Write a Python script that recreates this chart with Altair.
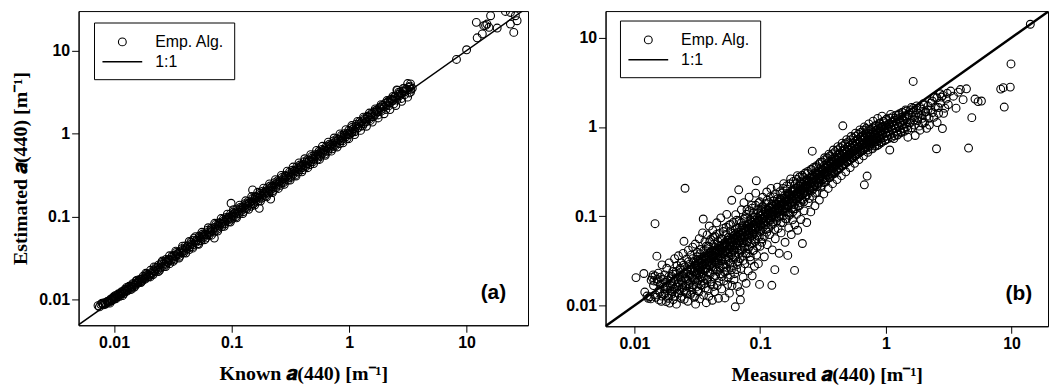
import altair as alt
import pandas as pd

# ---------------- Panel (a): Known vs Estimated a(440) ----------------
a_low = [(0.0073, 0.0085), (0.0077, 0.0088), (0.0079, 0.0091), (0.0081, 0.0087), (0.0083, 0.0092),
         (0.0085, 0.0090), (0.0087, 0.0095), (0.0088, 0.0093), (0.0090, 0.0097), (0.0091, 0.0094),
         (0.0093, 0.0099), (0.0094, 0.0102), (0.0096, 0.0098), (0.0098, 0.0104), (0.0100, 0.0102),
         (0.0101, 0.0108), (0.0103, 0.0105), (0.0105, 0.0112), (0.0107, 0.0109), (0.0109, 0.0115),
         (0.0111, 0.0113), (0.0113, 0.0120), (0.0115, 0.0117), (0.0117, 0.0124), (0.0119, 0.0121),
         (0.0122, 0.0128), (0.0125, 0.0126), (0.0127, 0.0133), (0.0130, 0.0131), (0.0133, 0.0140),
         (0.0136, 0.0137), (0.0139, 0.0145), (0.0142, 0.0141), (0.0145, 0.0152), (0.0148, 0.0150),
         (0.0152, 0.0149), (0.0155, 0.0160), (0.0159, 0.0157), (0.0162, 0.0168), (0.0166, 0.0165),
         (0.0170, 0.0176), (0.0174, 0.0171), (0.0178, 0.0184), (0.0182, 0.0180), (0.0187, 0.0194),
         (0.0191, 0.0187), (0.0196, 0.0201),
         (0.0075, 0.0082), (0.0080, 0.0090), (0.0084, 0.0088), (0.0089, 0.0096), (0.0092, 0.0091),
         (0.0097, 0.0101), (0.0099, 0.0108), (0.0104, 0.0103), (0.0108, 0.0117), (0.0112, 0.0110),
         (0.0116, 0.0125), (0.0121, 0.0118), (0.0124, 0.0134), (0.0129, 0.0127), (0.0134, 0.0145),
         (0.0138, 0.0133), (0.0144, 0.0156), (0.0149, 0.0142), (0.0154, 0.0168), (0.0160, 0.0163),
         (0.0165, 0.0175), (0.0172, 0.0166), (0.0177, 0.0192), (0.0184, 0.0177), (0.0190, 0.0205),
         (0.0198, 0.0190)]
a_mid1 = [(0.0201, 0.0198), (0.0206, 0.0212), (0.0211, 0.0207), (0.0217, 0.0224), (0.0222, 0.0218),
          (0.0228, 0.0236), (0.0234, 0.0228), (0.0240, 0.0262), (0.0246, 0.0241), (0.0252, 0.0270),
          (0.0258, 0.0252), (0.0265, 0.0273), (0.0272, 0.0266), (0.0279, 0.0290), (0.0286, 0.0281),
          (0.0294, 0.0305), (0.0302, 0.0296), (0.0310, 0.0325), (0.0318, 0.0311), (0.0327, 0.0342),
          (0.0336, 0.0330), (0.0345, 0.0356), (0.0354, 0.0349), (0.0364, 0.0378), (0.0374, 0.0366),
          (0.0384, 0.0395), (0.0395, 0.0388), (0.0406, 0.0420), (0.0417, 0.0410), (0.0429, 0.0447),
          (0.0441, 0.0431), (0.0453, 0.0470), (0.0466, 0.0458), (0.0479, 0.0552), (0.0492, 0.0486),
          (0.0506, 0.0523), (0.0520, 0.0508), (0.0535, 0.0556), (0.0550, 0.0541), (0.0565, 0.0583),
          (0.0581, 0.0569), (0.0597, 0.0617), (0.0614, 0.0602), (0.0631, 0.0655), (0.0649, 0.0637),
          (0.0667, 0.0689), (0.0686, 0.0670), (0.0713, 0.0552), (0.0725, 0.0748), (0.0745, 0.0731),
          (0.0766, 0.0792), (0.0788, 0.0770), (0.0810, 0.0837), (0.0833, 0.0815), (0.0856, 0.0885),
          (0.0880, 0.0862), (0.0905, 0.0934), (0.0931, 0.0912), (0.0957, 0.0990), (0.0984, 0.0962),
          (0.0990, 0.1450),
          (0.0204, 0.0226), (0.0215, 0.0201), (0.0226, 0.0245), (0.0237, 0.0248), (0.0244, 0.0226),
          (0.0255, 0.0281), (0.0268, 0.0252), (0.0276, 0.0305), (0.0289, 0.0301), (0.0297, 0.0272),
          (0.0312, 0.0338), (0.0323, 0.0301), (0.0339, 0.0371), (0.0350, 0.0362), (0.0362, 0.0334),
          (0.0378, 0.0412), (0.0391, 0.0368), (0.0403, 0.0444), (0.0420, 0.0438), (0.0433, 0.0398),
          (0.0450, 0.0492), (0.0462, 0.0432), (0.0481, 0.0521), (0.0497, 0.0512), (0.0514, 0.0472),
          (0.0532, 0.0585), (0.0547, 0.0512), (0.0569, 0.0618), (0.0585, 0.0601), (0.0603, 0.0552),
          (0.0626, 0.0688), (0.0645, 0.0601), (0.0670, 0.0725), (0.0690, 0.0712), (0.0711, 0.0652),
          (0.0735, 0.0805), (0.0757, 0.0705), (0.0782, 0.0848), (0.0803, 0.0832), (0.0826, 0.0758),
          (0.0851, 0.0935), (0.0875, 0.0815), (0.0902, 0.0978), (0.0927, 0.0962), (0.0952, 0.0872),
          (0.0981, 0.1078)]
a_mid2 = [(0.101, 0.104), (0.104, 0.101), (0.107, 0.111), (0.110, 0.108), (0.113, 0.117),
          (0.116, 0.113), (0.119, 0.124), (0.123, 0.120), (0.126, 0.131), (0.130, 0.127),
          (0.133, 0.139), (0.137, 0.134), (0.141, 0.146), (0.145, 0.141), (0.149, 0.155),
          (0.151, 0.210), (0.153, 0.150), (0.157, 0.163), (0.162, 0.158), (0.166, 0.172),
          (0.171, 0.167), (0.172, 0.126), (0.176, 0.183), (0.181, 0.176), (0.186, 0.193),
          (0.191, 0.187), (0.197, 0.204), (0.202, 0.197), (0.208, 0.216), (0.214, 0.208),
          (0.215, 0.163), (0.220, 0.228), (0.226, 0.221), (0.232, 0.241), (0.239, 0.233),
          (0.246, 0.255), (0.253, 0.246), (0.260, 0.270), (0.267, 0.260), (0.275, 0.285),
          (0.283, 0.276), (0.291, 0.302), (0.299, 0.289), (0.308, 0.320), (0.317, 0.308),
          (0.326, 0.339), (0.335, 0.326), (0.345, 0.359), (0.355, 0.345), (0.365, 0.380),
          (0.376, 0.366), (0.387, 0.402), (0.398, 0.388), (0.409, 0.426), (0.421, 0.410),
          (0.433, 0.451), (0.446, 0.434), (0.459, 0.478), (0.472, 0.460), (0.486, 0.505),
          (0.500, 0.487), (0.515, 0.536), (0.530, 0.516), (0.545, 0.567), (0.561, 0.546),
          (0.577, 0.600), (0.594, 0.579), (0.611, 0.636), (0.629, 0.613), (0.647, 0.673),
          (0.666, 0.649), (0.686, 0.713), (0.706, 0.687), (0.726, 0.756), (0.747, 0.728),
          (0.769, 0.800), (0.791, 0.771), (0.814, 0.847), (0.838, 0.817), (0.862, 0.897),
          (0.887, 0.865), (0.913, 0.950), (0.940, 0.916), (0.967, 1.006), (0.995, 0.970),
          (0.1005, 0.0935), (0.1032, 0.1132), (0.1061, 0.1098), (0.1092, 0.1002), (0.1125, 0.1241),
          (0.1157, 0.1078), (0.1193, 0.1298), (0.1228, 0.1272), (0.1262, 0.1152), (0.1302, 0.1432),
          (0.1338, 0.1245), (0.1379, 0.1512), (0.1418, 0.1468), (0.1459, 0.1335), (0.1505, 0.1652),
          (0.1547, 0.1438), (0.1595, 0.1745), (0.1641, 0.1702), (0.1688, 0.1541), (0.1741, 0.1912),
          (0.1789, 0.1662), (0.1845, 0.2025), (0.1898, 0.1965), (0.1951, 0.1782), (0.2012, 0.2215),
          (0.2068, 0.1925), (0.2131, 0.2338), (0.2193, 0.2272), (0.2255, 0.2058), (0.2326, 0.2562),
          (0.2391, 0.2225), (0.2464, 0.2702), (0.2535, 0.2628), (0.2607, 0.2378), (0.2689, 0.2962),
          (0.2764, 0.2572), (0.2849, 0.3125), (0.2931, 0.3038), (0.3013, 0.2748), (0.3108, 0.3425),
          (0.3195, 0.2972), (0.3294, 0.3612), (0.3389, 0.3512), (0.3484, 0.3178), (0.3593, 0.3962),
          (0.3694, 0.3435), (0.3808, 0.4175), (0.3918, 0.4062), (0.4028, 0.3672), (0.4155, 0.4582),
          (0.4271, 0.3972), (0.4403, 0.4828), (0.4530, 0.4695), (0.4657, 0.4245), (0.4804, 0.5298),
          (0.4938, 0.4592), (0.5091, 0.5582), (0.5238, 0.5428), (0.5385, 0.4908), (0.5554, 0.6125),
          (0.5710, 0.5308), (0.5886, 0.6452), (0.6056, 0.6275), (0.6226, 0.5675), (0.6421, 0.7082),
          (0.6602, 0.6138), (0.6805, 0.7462), (0.7001, 0.7255), (0.7198, 0.6562), (0.7424, 0.8188),
          (0.7633, 0.7098), (0.7868, 0.8628), (0.8095, 0.8388), (0.8322, 0.7585), (0.8583, 0.9465),
          (0.8825, 0.8205), (0.9097, 0.9975), (0.9359, 0.9698), (0.9622, 0.8772), (0.9923, 1.0945)]
a_wide = [(0.0102, 0.0112), (0.0118, 0.0112), (0.0128, 0.0141), (0.0141, 0.0134), (0.0157, 0.0172),
          (0.0169, 0.0161), (0.0186, 0.0208), (0.0203, 0.0188), (0.0219, 0.0248), (0.0238, 0.0218),
          (0.0257, 0.0292), (0.0275, 0.0251), (0.0296, 0.0338), (0.0318, 0.0289), (0.0335, 0.0385),
          (0.0357, 0.0318), (0.0383, 0.0442), (0.0408, 0.0365), (0.0436, 0.0502), (0.0466, 0.0418),
          (0.0493, 0.0575), (0.0525, 0.0465), (0.0559, 0.0648), (0.0592, 0.0528), (0.0633, 0.0735),
          (0.0674, 0.0598), (0.0718, 0.0832), (0.0762, 0.0672), (0.0815, 0.0948), (0.0866, 0.0765),
          (0.0921, 0.1072), (0.0976, 0.0862), (0.1038, 0.1215), (0.1102, 0.0968), (0.1172, 0.1372),
          (0.1245, 0.1092), (0.1318, 0.1552), (0.1398, 0.1225), (0.1482, 0.1745), (0.1572, 0.1378),
          (0.1668, 0.1962), (0.1762, 0.1542), (0.1872, 0.2205), (0.1985, 0.1735), (0.2102, 0.2482),
          (0.2228, 0.1948), (0.2362, 0.2792), (0.2501, 0.2185), (0.2652, 0.3135), (0.2808, 0.2452),
          (0.2975, 0.3522), (0.3152, 0.2752), (0.3338, 0.3952), (0.3535, 0.3085), (0.3745, 0.4435),
          (0.3965, 0.3462), (0.4198, 0.4975), (0.4448, 0.3882), (0.4712, 0.5582), (0.4991, 0.4352),
          (0.5285, 0.6262), (0.5598, 0.4882), (0.5928, 0.7025), (0.6279, 0.5475), (0.6652, 0.7882),
          (0.7045, 0.6142), (0.7462, 0.8842), (0.7905, 0.6892), (0.8372, 0.9918), (0.8868, 0.7732),
          (0.9392, 1.1125), (0.9948, 0.8672), (1.054, 1.248), (1.116, 0.973), (1.182, 1.402),
          (1.252, 1.092), (1.326, 1.572), (1.405, 1.225), (1.488, 1.765), (1.576, 1.375),
          (1.669, 1.982), (1.768, 1.542), (1.873, 2.225), (1.984, 1.732), (2.102, 2.495),
          (2.226, 1.942), (2.358, 2.802), (2.498, 2.178), (2.646, 3.142), (2.802, 2.445),
          (2.968, 3.525), (3.145, 2.745), (3.331, 3.952)]
a_high = [(1.024, 1.070), (1.054, 1.031), (1.085, 1.140), (1.116, 1.090), (1.149, 1.220),
          (1.182, 1.160), (1.217, 1.300), (1.252, 1.235), (1.289, 1.390), (1.327, 1.310),
          (1.366, 1.480), (1.406, 1.400), (1.447, 1.580), (1.489, 1.500), (1.533, 1.690),
          (1.578, 1.600), (1.624, 1.800), (1.671, 1.710), (1.720, 1.920), (1.770, 1.830),
          (1.822, 2.050), (1.875, 1.950), (1.930, 2.180), (1.986, 2.080), (2.044, 2.320),
          (2.104, 2.210), (2.166, 2.450), (2.229, 2.350), (2.294, 2.600), (2.361, 2.500),
          (2.430, 2.760), (2.501, 2.650), (2.574, 3.300), (2.650, 2.820), (2.727, 3.100),
          (2.807, 3.000), (2.889, 3.500), (2.973, 3.200), (3.060, 3.400), (3.150, 4.000),
          (3.240, 3.600), (3.330, 3.150), (3.450, 3.500),
          (1.021, 0.985), (1.052, 1.182), (1.085, 1.132), (1.118, 1.052), (1.153, 1.298),
          (1.188, 1.178), (1.226, 1.385), (1.263, 1.342), (1.302, 1.235), (1.342, 1.512),
          (1.384, 1.372), (1.427, 1.612), (1.471, 1.562), (1.516, 1.438), (1.563, 1.762),
          (1.612, 1.598), (1.662, 1.875), (1.713, 1.818), (1.766, 1.675), (1.821, 2.052),
          (1.877, 1.862), (1.935, 2.185), (1.995, 2.118), (2.057, 1.952), (2.121, 2.392),
          (2.186, 2.168), (2.254, 2.545), (2.324, 2.468), (2.396, 2.272), (2.470, 2.785),
          (2.546, 2.525), (2.625, 2.962), (2.706, 2.875), (2.790, 2.645), (2.877, 3.245),
          (2.966, 2.942), (3.058, 3.452), (3.152, 3.352), (3.250, 3.082), (3.350, 3.412),
          (3.300, 3.720), (2.550, 3.350),
          (8.2, 7.8), (10.0, 10.2), (12.1, 21.8), (12.3, 14.2), (13.6, 15.8), (14.0, 19.9),
          (14.5, 20.0), (14.9, 20.8), (15.5, 19.0), (16.0, 26.2), (18.2, 18.6), (21.4, 29.5),
          (23.6, 28.7), (26.0, 26.2), (23.6, 20.8), (25.2, 16.5), (26.9, 22.8)]

# ---------------- Panel (b): Measured vs Estimated a(440) ----------------
b_bin1 = [(0.0103, 0.0206), (0.0119, 0.0229), (0.0121, 0.0142), (0.0126, 0.0128), (0.0129, 0.0121),
          (0.0133, 0.0126), (0.0135, 0.0119), (0.0136, 0.0193), (0.0139, 0.0207), (0.0141, 0.0221),
          (0.0143, 0.0189), (0.0146, 0.0215), (0.0148, 0.0124), (0.0151, 0.0358), (0.0146, 0.0826),
          (0.0152, 0.0197), (0.0155, 0.0231), (0.0157, 0.0116), (0.0159, 0.0142), (0.0161, 0.0208),
          (0.0164, 0.0112), (0.0166, 0.0286), (0.0168, 0.0176), (0.0171, 0.0134), (0.0174, 0.0221),
          (0.0176, 0.0157), (0.0179, 0.0111), (0.0181, 0.0262), (0.0184, 0.0193), (0.0187, 0.0128),
          (0.0189, 0.0301), (0.0191, 0.0107), (0.0194, 0.0167), (0.0197, 0.0214), (0.0199, 0.0145)]
b_bin2 = [(0.0202, 0.0241), (0.0204, 0.0117), (0.0207, 0.0189), (0.0209, 0.0335), (0.0211, 0.0152),
          (0.0214, 0.0226), (0.0216, 0.0104), (0.0219, 0.0281), (0.0221, 0.0173), (0.0224, 0.0361),
          (0.0226, 0.0138), (0.0229, 0.0212), (0.0231, 0.0251), (0.0234, 0.0121), (0.0236, 0.0302),
          (0.0239, 0.0186), (0.0242, 0.0158), (0.0244, 0.0384), (0.0247, 0.0229), (0.0248, 0.0525),
          (0.0249, 0.0118), (0.0252, 0.0271), (0.0253, 0.206), (0.0255, 0.0197), (0.0258, 0.0145),
          (0.0261, 0.0332), (0.0263, 0.0241), (0.0266, 0.0112), (0.0269, 0.0418), (0.0271, 0.0176),
          (0.0274, 0.0289), (0.0277, 0.0215), (0.0279, 0.0133), (0.0282, 0.0367), (0.0285, 0.0254),
          (0.0288, 0.0161), (0.0291, 0.0452), (0.0293, 0.0198), (0.0296, 0.0312), (0.0299, 0.0124),
          (0.0302, 0.0237), (0.0305, 0.0489), (0.0307, 0.0104), (0.0310, 0.0278), (0.0313, 0.0182),
          (0.0316, 0.0396), (0.0319, 0.0146), (0.0322, 0.0331), (0.0325, 0.0221), (0.0328, 0.0561),
          (0.0331, 0.0119), (0.0334, 0.0264), (0.0337, 0.0425), (0.0340, 0.0171), (0.0343, 0.0307),
          (0.0346, 0.0208), (0.0349, 0.0652)]
b_bin3 = [(0.0353, 0.0932), (0.0355, 0.0131), (0.0358, 0.0352), (0.0361, 0.0245), (0.0364, 0.0521),
          (0.0367, 0.0158), (0.0370, 0.0412), (0.0373, 0.0108), (0.0376, 0.0287), (0.0379, 0.0618),
          (0.0382, 0.0196), (0.0385, 0.0361), (0.0388, 0.0462), (0.0391, 0.0127), (0.0394, 0.0778),
          (0.0397, 0.0233), (0.0400, 0.0321), (0.0404, 0.0549), (0.0407, 0.0174), (0.0410, 0.0402),
          (0.0414, 0.0275), (0.0417, 0.0115), (0.0420, 0.0694), (0.0424, 0.0352), (0.0427, 0.0209),
          (0.0431, 0.0487), (0.0434, 0.0143), (0.0438, 0.0594), (0.0441, 0.0308), (0.0445, 0.0412),
          (0.0449, 0.0252), (0.0452, 0.0846), (0.0456, 0.0168), (0.0460, 0.0377), (0.0464, 0.0521),
          (0.0467, 0.0121), (0.0471, 0.0289), (0.0475, 0.0642), (0.0479, 0.0441), (0.0483, 0.0227),
          (0.0487, 0.0961), (0.0491, 0.0335), (0.0495, 0.0154), (0.0499, 0.0558), (0.0504, 0.0398),
          (0.0508, 0.0268), (0.0512, 0.0731), (0.0516, 0.0189), (0.0521, 0.0482), (0.0525, 0.0122),
          (0.0529, 0.0351), (0.0534, 0.0623), (0.0538, 0.0244), (0.0543, 0.1051), (0.0547, 0.0427),
          (0.0552, 0.0173), (0.0556, 0.0542), (0.0561, 0.0312), (0.0566, 0.0795), (0.0570, 0.0138),
          (0.0575, 0.0461), (0.0580, 0.0221), (0.0585, 0.0687), (0.0590, 0.0372), (0.0595, 0.1512),
          (0.0598, 0.0168), (0.0600, 0.0512)]
b_bin4 = [(0.0605, 0.0282), (0.0610, 0.0851), (0.0615, 0.0411), (0.0620, 0.0195), (0.0625, 0.0612),
          (0.0630, 0.0352), (0.0635, 0.0097), (0.0640, 0.1043), (0.0645, 0.0478), (0.0650, 0.0254),
          (0.0655, 0.0731), (0.0661, 0.0164), (0.0666, 0.0541), (0.0671, 0.0312), (0.0676, 0.198),
          (0.0682, 0.0892), (0.0687, 0.0421), (0.0693, 0.0143), (0.0697, 0.0116), (0.0698, 0.0662),
          (0.0704, 0.0261), (0.0710, 0.1182), (0.0715, 0.0502), (0.0721, 0.0358), (0.0727, 0.0785),
          (0.0733, 0.0208), (0.0738, 0.0582), (0.0744, 0.1421), (0.0750, 0.0441), (0.0756, 0.0295),
          (0.0762, 0.0953), (0.0768, 0.0675), (0.0774, 0.0178), (0.0780, 0.0521), (0.0787, 0.1192),
          (0.0793, 0.0382), (0.0799, 0.0812), (0.0805, 0.0245), (0.0812, 0.0621), (0.0818, 0.1634),
          (0.0825, 0.0461), (0.0831, 0.0925), (0.0838, 0.0322), (0.0845, 0.0712), (0.0852, 0.0548),
          (0.0858, 0.1321), (0.0865, 0.0216), (0.0872, 0.0851), (0.0879, 0.0412), (0.0887, 0.1085),
          (0.0894, 0.0635), (0.0901, 0.0276), (0.0908, 0.0972), (0.0916, 0.0521), (0.0923, 0.1815),
          (0.0930, 0.0752), (0.0933, 0.250), (0.0938, 0.0368), (0.0946, 0.1182), (0.0953, 0.0605),
          (0.0961, 0.0891), (0.0969, 0.0295), (0.0977, 0.1412), (0.0985, 0.0702), (0.0990, 0.0173),
          (0.0993, 0.1035), (0.0998, 0.0462)]
b_bin5 = [(0.101, 0.0812), (0.102, 0.125), (0.104, 0.0561), (0.105, 0.163), (0.107, 0.0945),
          (0.108, 0.0352), (0.110, 0.121), (0.111, 0.0712), (0.113, 0.187), (0.114, 0.0481),
          (0.116, 0.108), (0.117, 0.142), (0.119, 0.0625), (0.120, 0.0912), (0.122, 0.205),
          (0.124, 0.0169), (0.124, 0.128), (0.125, 0.0421), (0.127, 0.0821), (0.128, 0.165),
          (0.130, 0.112), (0.131, 0.0253), (0.132, 0.0561), (0.134, 0.138), (0.135, 0.0952),
          (0.137, 0.212), (0.139, 0.0731), (0.140, 0.121), (0.142, 0.0385), (0.144, 0.157),
          (0.145, 0.102), (0.147, 0.0652), (0.149, 0.182), (0.150, 0.131), (0.152, 0.0852),
          (0.154, 0.232), (0.156, 0.112), (0.158, 0.0512), (0.160, 0.148), (0.162, 0.0935),
          (0.164, 0.201), (0.166, 0.0365), (0.167, 0.128), (0.169, 0.0741), (0.171, 0.172),
          (0.173, 0.108), (0.175, 0.262), (0.177, 0.0625), (0.179, 0.142), (0.181, 0.0912),
          (0.184, 0.195), (0.186, 0.121), (0.188, 0.0248), (0.189, 0.0802), (0.191, 0.231),
          (0.193, 0.158), (0.195, 0.105), (0.198, 0.285), (0.199, 0.0698)]
b_bin6 = [(0.202, 0.178), (0.205, 0.131), (0.208, 0.245), (0.211, 0.0921), (0.214, 0.198),
          (0.217, 0.0496), (0.218, 0.152), (0.221, 0.275), (0.224, 0.115), (0.228, 0.221),
          (0.231, 0.172), (0.235, 0.0852), (0.238, 0.301), (0.242, 0.142), (0.245, 0.245),
          (0.249, 0.195), (0.253, 0.112), (0.257, 0.332), (0.260, 0.535), (0.261, 0.168),
          (0.265, 0.265), (0.269, 0.215), (0.273, 0.131), (0.278, 0.352), (0.282, 0.185),
          (0.287, 0.291), (0.291, 0.238), (0.296, 0.152), (0.301, 0.402), (0.306, 0.211),
          (0.311, 0.325), (0.316, 0.262), (0.321, 0.178), (0.326, 0.452), (0.331, 0.241),
          (0.337, 0.362), (0.342, 0.292), (0.348, 0.205), (0.353, 0.495), (0.359, 0.271),
          (0.365, 0.402), (0.371, 0.325), (0.377, 0.232), (0.383, 0.552), (0.389, 0.301),
          (0.396, 0.445), (0.402, 0.365), (0.409, 0.258), (0.415, 0.602), (0.422, 0.335),
          (0.429, 0.492), (0.436, 0.402), (0.443, 0.285), (0.450, 0.658), (0.455, 1.03),
          (0.457, 0.372), (0.465, 0.545), (0.472, 0.445), (0.480, 0.315), (0.488, 0.721),
          (0.496, 0.412)]
b_bin7 = [(0.504, 0.602), (0.512, 0.492), (0.521, 0.351), (0.529, 0.781), (0.538, 0.452),
          (0.547, 0.662), (0.556, 0.542), (0.565, 0.392), (0.574, 0.852), (0.583, 0.498),
          (0.593, 0.725), (0.602, 0.595), (0.612, 0.432), (0.622, 0.925), (0.632, 0.548),
          (0.643, 0.792), (0.653, 0.652), (0.664, 0.475), (0.675, 0.225), (0.675, 1.002),
          (0.686, 0.602), (0.697, 0.862), (0.708, 0.712), (0.710, 0.282), (0.720, 0.521),
          (0.732, 1.082), (0.744, 0.662), (0.756, 0.935), (0.768, 0.772), (0.781, 0.568),
          (0.793, 1.162), (0.806, 0.725), (0.820, 1.012), (0.833, 0.838), (0.847, 0.615),
          (0.861, 1.245), (0.875, 0.792), (0.889, 1.085), (0.904, 0.905), (0.918, 0.665),
          (0.933, 1.321), (0.949, 0.858), (0.964, 1.152), (0.980, 0.972), (0.996, 0.718)]
b_bin8 = [(1.012, 1.225), (1.031, 0.862), (1.052, 1.052), (1.075, 0.552), (1.092, 1.382),
          (1.115, 0.935), (1.138, 1.142), (1.160, 0.742), (1.185, 1.252), (1.212, 1.021),
          (1.238, 0.812), (1.262, 1.352), (1.291, 1.105), (1.318, 0.882), (1.345, 1.452),
          (1.375, 1.192), (1.402, 0.952), (1.435, 1.552), (1.465, 1.285), (1.498, 0.768),
          (1.531, 1.375), (1.565, 1.112), (1.601, 1.652), (1.651, 3.23), (1.638, 1.462),
          (1.675, 1.195), (1.712, 0.802), (1.752, 1.552), (1.793, 1.282), (1.835, 1.021),
          (1.878, 1.652), (1.922, 1.372), (1.968, 1.095), (2.015, 1.752), (2.062, 1.462),
          (2.112, 0.965), (2.165, 1.552)]
b_bin9 = [(2.21, 1.25), (2.28, 1.85), (2.35, 1.45), (2.43, 2.15), (2.53, 0.57), (2.56, 1.12),
          (2.62, 1.65), (2.71, 2.35), (2.78, 2.16), (2.82, 0.96), (2.88, 1.42), (3.02, 2.05),
          (3.14, 1.78), (3.28, 2.52), (3.45, 2.21), (3.62, 1.62), (3.77, 2.45), (3.92, 2.62),
          (4.12, 2.02), (4.38, 2.67), (4.55, 0.58), (4.83, 1.27), (5.12, 2.05), (5.42, 1.92),
          (5.76, 1.95)]
b_bin10 = [(8.2, 2.65), (8.75, 1.67), (8.6, 2.75), (9.77, 2.79), (9.9, 5.07), (14.1, 14.1)]

# dense core of the cloud in panel (b)
b_core1 = [(0.0142, 0.0168), (0.0147, 0.0132), (0.0153, 0.0185), (0.0158, 0.0149), (0.0161, 0.0172),
           (0.0165, 0.0128), (0.0169, 0.0196), (0.0172, 0.0155), (0.0176, 0.0139), (0.0178, 0.0182),
           (0.0183, 0.0163), (0.0186, 0.0121), (0.0188, 0.0211), (0.0192, 0.0148), (0.0195, 0.0188),
           (0.0198, 0.0134), (0.0201, 0.0171), (0.0203, 0.0225), (0.0206, 0.0153), (0.0209, 0.0128),
           (0.0212, 0.0196), (0.0215, 0.0242), (0.0218, 0.0162), (0.0221, 0.0138), (0.0223, 0.0207),
           (0.0226, 0.0181), (0.0229, 0.0152), (0.0232, 0.0262), (0.0235, 0.0194), (0.0238, 0.0127),
           (0.0241, 0.0218), (0.0243, 0.0171), (0.0246, 0.0284), (0.0249, 0.0149), (0.0252, 0.0205),
           (0.0255, 0.0232), (0.0258, 0.0166), (0.0261, 0.0138), (0.0264, 0.0251), (0.0267, 0.0192),
           (0.0270, 0.0311), (0.0273, 0.0158), (0.0276, 0.0224), (0.0279, 0.0183), (0.0282, 0.0268),
           (0.0285, 0.0141), (0.0288, 0.0205), (0.0291, 0.0336), (0.0294, 0.0172), (0.0297, 0.0241),
           (0.0300, 0.0198), (0.0303, 0.0128), (0.0306, 0.0285), (0.0309, 0.0221), (0.0312, 0.0162),
           (0.0315, 0.0352), (0.0318, 0.0248), (0.0321, 0.0191), (0.0324, 0.0301), (0.0327, 0.0145),
           (0.0330, 0.0232), (0.0333, 0.0381), (0.0336, 0.0212), (0.0339, 0.0168), (0.0342, 0.0275),
           (0.0345, 0.0331), (0.0348, 0.0188)]
b_core2 = [(0.0352, 0.0291), (0.0356, 0.0412), (0.0359, 0.0215), (0.0363, 0.0178), (0.0366, 0.0335),
           (0.0370, 0.0262), (0.0373, 0.0462), (0.0377, 0.0198), (0.0380, 0.0305), (0.0384, 0.0238),
           (0.0387, 0.0148), (0.0391, 0.0385), (0.0394, 0.0281), (0.0398, 0.0521), (0.0401, 0.0225),
           (0.0405, 0.0338), (0.0409, 0.0185), (0.0412, 0.0412), (0.0416, 0.0298), (0.0420, 0.0252),
           (0.0423, 0.0585), (0.0427, 0.0164), (0.0431, 0.0362), (0.0435, 0.0271), (0.0439, 0.0448),
           (0.0443, 0.0215), (0.0447, 0.0325), (0.0451, 0.0628), (0.0455, 0.0391), (0.0459, 0.0242),
           (0.0463, 0.0298), (0.0467, 0.0475), (0.0471, 0.0188), (0.0475, 0.0352), (0.0479, 0.0412),
           (0.0484, 0.0265), (0.0488, 0.0562), (0.0492, 0.0318), (0.0497, 0.0212), (0.0501, 0.0445),
           (0.0505, 0.0382), (0.0510, 0.0675), (0.0514, 0.0291), (0.0519, 0.0498), (0.0523, 0.0238),
           (0.0528, 0.0412), (0.0532, 0.0335), (0.0537, 0.0755), (0.0542, 0.0268), (0.0546, 0.0462),
           (0.0551, 0.0391), (0.0556, 0.0205), (0.0561, 0.0582), (0.0566, 0.0348), (0.0571, 0.0431),
           (0.0576, 0.0298), (0.0581, 0.0812), (0.0586, 0.0521), (0.0591, 0.0252), (0.0596, 0.0395),
           (0.0601, 0.0468), (0.0607, 0.0642), (0.0612, 0.0325), (0.0617, 0.0552), (0.0623, 0.0418),
           (0.0628, 0.0228), (0.0634, 0.0712), (0.0639, 0.0365), (0.0645, 0.0495), (0.0651, 0.0902),
           (0.0656, 0.0442), (0.0662, 0.0288), (0.0668, 0.0612), (0.0674, 0.0385), (0.0680, 0.0535),
           (0.0686, 0.0752), (0.0692, 0.0335), (0.0698, 0.0472)]
b_core3 = [(0.0704, 0.0582), (0.0710, 0.0852), (0.0717, 0.0418), (0.0723, 0.0665), (0.0730, 0.0512),
           (0.0736, 0.0321), (0.0743, 0.0932), (0.0749, 0.0592), (0.0756, 0.0455), (0.0763, 0.0725),
           (0.0770, 0.0385), (0.0777, 0.1052), (0.0784, 0.0628), (0.0791, 0.0512), (0.0798, 0.0812),
           (0.0805, 0.0432), (0.0812, 0.0685), (0.0820, 0.1152), (0.0827, 0.0565), (0.0835, 0.0352),
           (0.0842, 0.0892), (0.0850, 0.0712), (0.0858, 0.0495), (0.0865, 0.1235), (0.0873, 0.0632),
           (0.0881, 0.0781), (0.0889, 0.0418), (0.0897, 0.0982), (0.0906, 0.0715), (0.0914, 0.0555),
           (0.0922, 0.1328), (0.0931, 0.0842), (0.0939, 0.0652), (0.0948, 0.0462), (0.0957, 0.1085),
           (0.0966, 0.0775), (0.0975, 0.0912), (0.0984, 0.0588), (0.0993, 0.1452), (0.1002, 0.0821),
           (0.1011, 0.0682), (0.1021, 0.1152), (0.1030, 0.0512), (0.1040, 0.0945), (0.1049, 0.1285),
           (0.1059, 0.0752), (0.1069, 0.0885), (0.1079, 0.0595), (0.1089, 0.1385), (0.1099, 0.1025),
           (0.1109, 0.0812), (0.1119, 0.1182), (0.1130, 0.0665), (0.1140, 0.1512), (0.1151, 0.0942),
           (0.1162, 0.1078), (0.1172, 0.0728), (0.1183, 0.1252), (0.1194, 0.0885), (0.1206, 0.1652),
           (0.1217, 0.1015), (0.1228, 0.0795), (0.1240, 0.1342), (0.1251, 0.1112), (0.1263, 0.0862),
           (0.1275, 0.1482), (0.1287, 0.0978), (0.1299, 0.1215), (0.1311, 0.0712), (0.1323, 0.1785),
           (0.1336, 0.1085), (0.1348, 0.1335), (0.1361, 0.0892), (0.1374, 0.1565), (0.1387, 0.1192)]
b_core4 = [(0.1400, 0.1452), (0.1413, 0.0985), (0.1427, 0.1212), (0.1440, 0.1885), (0.1454, 0.1345),
           (0.1467, 0.0852), (0.1481, 0.1595), (0.1495, 0.1152), (0.1509, 0.1412), (0.1524, 0.2052),
           (0.1538, 0.1018), (0.1553, 0.1325), (0.1567, 0.1712), (0.1582, 0.1215), (0.1597, 0.0935),
           (0.1612, 0.1552), (0.1628, 0.2185), (0.1643, 0.1365), (0.1659, 0.1112), (0.1675, 0.1815),
           (0.1690, 0.1482), (0.1706, 0.1025), (0.1723, 0.2312), (0.1739, 0.1415), (0.1755, 0.1662),
           (0.1772, 0.1218), (0.1789, 0.1935), (0.1806, 0.1552), (0.1823, 0.1122), (0.1840, 0.2455),
           (0.1858, 0.1685), (0.1875, 0.1352), (0.1893, 0.2052), (0.1911, 0.1215), (0.1929, 0.1795),
           (0.1947, 0.2585), (0.1966, 0.1495), (0.1985, 0.1865), (0.2003, 0.1312), (0.2022, 0.2185),
           (0.2042, 0.1652), (0.2061, 0.2752), (0.2081, 0.1428), (0.2100, 0.1982), (0.2120, 0.2312),
           (0.2140, 0.1585), (0.2161, 0.2875), (0.2181, 0.1785), (0.2202, 0.2112), (0.2223, 0.1452),
           (0.2244, 0.2452), (0.2265, 0.1925), (0.2287, 0.3052), (0.2308, 0.1652), (0.2330, 0.2232),
           (0.2352, 0.2582), (0.2375, 0.1752), (0.2397, 0.3185), (0.2420, 0.2052), (0.2443, 0.2412),
           (0.2466, 0.1585), (0.2490, 0.2725), (0.2513, 0.2185), (0.2537, 0.3352), (0.2561, 0.1925),
           (0.2586, 0.2552), (0.2610, 0.2882), (0.2635, 0.2012), (0.2660, 0.3512), (0.2685, 0.2352),
           (0.2711, 0.2715), (0.2737, 0.1815), (0.2763, 0.3052), (0.2789, 0.2485), (0.2816, 0.3685),
           (0.2842, 0.2152), (0.2869, 0.2892), (0.2897, 0.3215), (0.2924, 0.2312), (0.2952, 0.3852),
           (0.2980, 0.2612)]
b_core5 = [(0.3008, 0.2952), (0.3037, 0.3485), (0.3066, 0.2215), (0.3095, 0.3152), (0.3124, 0.4052),
           (0.3154, 0.2782), (0.3184, 0.3312), (0.3214, 0.2385), (0.3245, 0.3685), (0.3276, 0.4285),
           (0.3307, 0.2952), (0.3338, 0.3515), (0.3370, 0.2552), (0.3402, 0.3885), (0.3434, 0.4512),
           (0.3467, 0.3152), (0.3500, 0.3712), (0.3533, 0.2712), (0.3567, 0.4112), (0.3601, 0.4752),
           (0.3635, 0.3352), (0.3669, 0.3912), (0.3704, 0.2885), (0.3739, 0.4352), (0.3775, 0.5012),
           (0.3810, 0.3552), (0.3847, 0.4125), (0.3883, 0.3052), (0.3920, 0.4585), (0.3957, 0.5285),
           (0.3995, 0.3752), (0.4033, 0.4352), (0.4071, 0.3235), (0.4110, 0.4825), (0.4149, 0.5552),
           (0.4188, 0.3952), (0.4228, 0.4582), (0.4268, 0.3412), (0.4308, 0.5085), (0.4349, 0.5852),
           (0.4390, 0.4162), (0.4432, 0.4825), (0.4474, 0.3612), (0.4516, 0.5352), (0.4559, 0.6152),
           (0.4602, 0.4385), (0.4646, 0.5082), (0.4690, 0.3815), (0.4734, 0.5635), (0.4779, 0.6485),
           (0.4824, 0.4612), (0.4870, 0.5352), (0.4916, 0.4025), (0.4963, 0.5925), (0.5010, 0.6812),
           (0.5057, 0.4852), (0.5105, 0.5632), (0.5153, 0.4235), (0.5202, 0.6235), (0.5251, 0.7152),
           (0.5301, 0.5112), (0.5351, 0.5925), (0.5402, 0.4452), (0.5453, 0.6552), (0.5505, 0.7512),
           (0.5557, 0.5372), (0.5610, 0.6232), (0.5663, 0.4685), (0.5717, 0.6885), (0.5771, 0.7885),
           (0.5826, 0.5652), (0.5881, 0.6552), (0.5937, 0.4925), (0.5993, 0.7235), (0.6050, 0.8285),
           (0.6107, 0.5942), (0.6165, 0.6885), (0.6223, 0.5182), (0.6282, 0.7602), (0.6342, 0.8705),
           (0.6402, 0.6245), (0.6463, 0.7235), (0.6524, 0.5445), (0.6586, 0.7985), (0.6648, 0.9145),
           (0.6711, 0.6562), (0.6775, 0.7602), (0.6839, 0.5725), (0.6904, 0.8392), (0.6969, 0.9605)]
b_core6 = [(0.705, 0.652), (0.712, 0.815), (0.719, 0.552), (0.726, 0.712), (0.733, 0.935),
           (0.741, 0.605), (0.748, 0.768), (0.756, 0.682), (0.763, 0.862), (0.771, 0.575),
           (0.779, 0.735), (0.786, 0.985), (0.794, 0.652), (0.802, 0.812), (0.810, 0.712),
           (0.818, 0.612), (0.827, 0.905), (0.835, 1.045), (0.843, 0.752), (0.852, 0.685),
           (0.860, 0.862), (0.869, 0.952), (0.878, 0.635), (0.887, 0.805), (0.895, 1.102),
           (0.904, 0.735), (0.914, 0.882), (0.923, 0.685), (0.932, 0.992), (0.942, 0.812),
           (0.951, 1.152), (0.961, 0.762), (0.970, 0.915), (0.980, 0.702), (0.990, 1.035),
           (1.000, 0.852), (1.010, 1.205), (1.020, 0.792), (1.031, 0.952), (1.041, 0.735),
           (1.052, 1.085), (1.062, 0.885), (1.073, 1.252), (1.084, 0.822), (1.095, 0.995),
           (1.106, 0.762), (1.117, 1.135), (1.128, 0.925), (1.139, 1.302), (1.151, 0.855),
           (1.162, 1.032), (1.174, 0.795), (1.186, 1.182), (1.198, 0.962), (1.210, 1.352),
           (1.222, 0.892), (1.234, 1.075), (1.247, 0.825), (1.259, 1.232), (1.272, 1.002),
           (1.285, 1.405), (1.298, 0.925), (1.311, 1.115), (1.324, 0.862), (1.337, 1.282),
           (1.351, 1.041), (1.364, 1.455), (1.378, 0.965), (1.392, 1.162), (1.406, 0.895),
           (1.420, 1.332), (1.434, 1.085), (1.449, 1.505), (1.463, 1.002), (1.478, 1.205),
           (1.493, 0.932)]
b_core7 = [(1.51, 1.38), (1.54, 1.12), (1.57, 1.55), (1.60, 0.98), (1.63, 1.28), (1.66, 1.62),
           (1.69, 1.05), (1.72, 1.35), (1.76, 1.72), (1.79, 1.18), (1.83, 1.42), (1.87, 0.92),
           (1.91, 1.58), (1.95, 1.25), (1.99, 1.82), (2.03, 1.12), (2.08, 1.48), (2.12, 1.32),
           (2.17, 1.72), (2.22, 1.05), (2.28, 1.55), (2.34, 1.95), (2.41, 1.28), (2.48, 1.68),
           (2.55, 2.12), (2.63, 1.42), (2.72, 1.85), (2.85, 2.25), (2.95, 1.62), (3.08, 2.38)]
b_core8 = [(0.0301, 0.0262), (0.0306, 0.0301), (0.0311, 0.0228), (0.0317, 0.0275), (0.0322, 0.0248),
           (0.0326, 0.0318), (0.0331, 0.0272), (0.0337, 0.0241), (0.0343, 0.0332), (0.0348, 0.0285),
           (0.0353, 0.0252), (0.0358, 0.0342), (0.0364, 0.0298), (0.0371, 0.0322), (0.0376, 0.0262),
           (0.0382, 0.0365), (0.0389, 0.0312), (0.0395, 0.0281), (0.0401, 0.0395), (0.0408, 0.0338),
           (0.0414, 0.0292), (0.0421, 0.0362), (0.0428, 0.0418), (0.0435, 0.0315), (0.0442, 0.0385),
           (0.0449, 0.0348), (0.0456, 0.0432), (0.0464, 0.0338), (0.0471, 0.0398), (0.0479, 0.0462),
           (0.0487, 0.0362), (0.0495, 0.0425), (0.0503, 0.0482), (0.0511, 0.0382), (0.0519, 0.0445),
           (0.0528, 0.0512), (0.0536, 0.0402), (0.0545, 0.0472), (0.0554, 0.0541), (0.0563, 0.0425),
           (0.0572, 0.0498), (0.0582, 0.0572), (0.0591, 0.0448), (0.0601, 0.0525), (0.0611, 0.0602),
           (0.0621, 0.0472), (0.0631, 0.0552), (0.0641, 0.0635), (0.0652, 0.0498), (0.0663, 0.0582),
           (0.0674, 0.0668), (0.0685, 0.0525), (0.0696, 0.0612), (0.0708, 0.0705), (0.0719, 0.0552),
           (0.0731, 0.0645), (0.0743, 0.0742), (0.0756, 0.0582), (0.0768, 0.0678), (0.0781, 0.0782),
           (0.0794, 0.0612), (0.0807, 0.0712), (0.0820, 0.0822), (0.0834, 0.0645), (0.0848, 0.0752),
           (0.0862, 0.0865), (0.0876, 0.0678), (0.0891, 0.0792), (0.0905, 0.0912), (0.0920, 0.0712),
           (0.0936, 0.0832), (0.0951, 0.0958), (0.0967, 0.0752), (0.0983, 0.0875), (0.0999, 0.1008),
           (0.1016, 0.0792), (0.1033, 0.0922), (0.1050, 0.1062), (0.1067, 0.0832), (0.1085, 0.0972),
           (0.1103, 0.1118), (0.1121, 0.0875), (0.1140, 0.1022), (0.1159, 0.1175), (0.1178, 0.0922),
           (0.1198, 0.1075), (0.1218, 0.1238), (0.1238, 0.0972), (0.1258, 0.1132), (0.1279, 0.1302),
           (0.1300, 0.1022), (0.1322, 0.1192), (0.1344, 0.1372), (0.1366, 0.1075), (0.1389, 0.1255),
           (0.1412, 0.1445), (0.1435, 0.1132), (0.1459, 0.1321), (0.1483, 0.1522), (0.1508, 0.1192),
           (0.1533, 0.1392), (0.1558, 0.1602), (0.1584, 0.1255), (0.1610, 0.1465), (0.1637, 0.1685),
           (0.1664, 0.1321), (0.1692, 0.1542), (0.1720, 0.1775), (0.1748, 0.1392), (0.1777, 0.1625),
           (0.1807, 0.1868), (0.1837, 0.1465), (0.1867, 0.1712), (0.1898, 0.1965), (0.1930, 0.1542),
           (0.1962, 0.1802), (0.1994, 0.2068), (0.2027, 0.1625), (0.2061, 0.1898), (0.2095, 0.2178),
           (0.2130, 0.1712), (0.2165, 0.1998), (0.2201, 0.2292), (0.2237, 0.1802), (0.2274, 0.2105),
           (0.2312, 0.2412), (0.2351, 0.1898), (0.2390, 0.2215), (0.2429, 0.2538), (0.2470, 0.1998),
           (0.2511, 0.2332), (0.2552, 0.2672), (0.2595, 0.2105), (0.2638, 0.2455), (0.2681, 0.2812),
           (0.2726, 0.2215), (0.2771, 0.2585), (0.2817, 0.2962), (0.2864, 0.2332), (0.2911, 0.2722),
           (0.2960, 0.3118), (0.3009, 0.2455), (0.3059, 0.2865), (0.3110, 0.3282), (0.3161, 0.2585),
           (0.3214, 0.3015), (0.3267, 0.3455), (0.3321, 0.2722), (0.3377, 0.3175), (0.3433, 0.3638),
           (0.3490, 0.2865), (0.3548, 0.3342), (0.3607, 0.3828), (0.3667, 0.3015), (0.3728, 0.3518),
           (0.3790, 0.4032), (0.3853, 0.3175), (0.3917, 0.3702), (0.3982, 0.4245), (0.4048, 0.3342),
           (0.4115, 0.3898), (0.4184, 0.4468), (0.4253, 0.3518), (0.4324, 0.4102), (0.4396, 0.4702),
           (0.4469, 0.3702), (0.4543, 0.4318), (0.4618, 0.4952), (0.4695, 0.3898), (0.4773, 0.4545),
           (0.4852, 0.5212), (0.4933, 0.4102), (0.5015, 0.4785), (0.5098, 0.5485), (0.5183, 0.4318),
           (0.5269, 0.5038), (0.5357, 0.5775), (0.5446, 0.4545), (0.5536, 0.5302), (0.5628, 0.6078),
           (0.5722, 0.4785), (0.5817, 0.5582), (0.5913, 0.6398), (0.6011, 0.5038), (0.6111, 0.5875),
           (0.6213, 0.6735), (0.6316, 0.5302), (0.6421, 0.6185), (0.6527, 0.7088), (0.6636, 0.5582),
           (0.6746, 0.6512), (0.6858, 0.7462), (0.6972, 0.5875), (0.7088, 0.6855), (0.7205, 0.7855),
           (0.7325, 0.6185), (0.7447, 0.7215), (0.7571, 0.8268), (0.7696, 0.6512), (0.7824, 0.7595),
           (0.7954, 0.8702), (0.8086, 0.6855), (0.8220, 0.7995), (0.8357, 0.9162), (0.8496, 0.7215),
           (0.8637, 0.8415), (0.8780, 0.9645), (0.8926, 0.7595), (0.9074, 0.8858), (0.9225, 1.0152)]

one_to_one = [0.001, 100.0]
tick_values = [0.01, 0.1, 1, 10]

a_x_domain = [0.00499, 33.3]
a_y_domain = [0.00493, 29.8]
b_x_domain = [0.0059, 19.5]
b_y_domain = [0.00588, 19.8]

SERIF = "Liberation Serif"
SANS = "Liberation Sans"


def panel(pairs, xdom, ydom, w, h, xtitle, ytitle, tag, line_w, leg_x, leg_y, tag_right):
    df = pd.DataFrame(pairs, columns=["x", "y"])
    xs = alt.Scale(type="log", domain=xdom, nice=False)
    ys = alt.Scale(type="log", domain=ydom, nice=False)
    xaxis = alt.Axis(values=tick_values, format="~g", title=xtitle, titlePadding=14)
    if ytitle:
        yaxis = alt.Axis(values=tick_values, format="~g", title=ytitle, titlePadding=8)
    else:
        yaxis = alt.Axis(values=tick_values, format="~g", title="")
    pts = alt.Chart(df).mark_point(
        shape="circle", filled=False, size=62, stroke="black", strokeWidth=1.1,
        opacity=1, clip=True
    ).encode(x=alt.X("x:Q", scale=xs, axis=xaxis), y=alt.Y("y:Q", scale=ys, axis=yaxis))
    line = alt.Chart(pd.DataFrame({"x": one_to_one, "y": one_to_one})).mark_line(
        color="black", strokeWidth=line_w, clip=True
    ).encode(x=alt.X("x:Q", scale=xs, axis=xaxis), y=alt.Y("y:Q", scale=ys, axis=yaxis))
    one = pd.DataFrame({"k": [0]})
    box = alt.Chart(one).mark_rect(fill="white", stroke="black", strokeWidth=1).encode(
        x=alt.value(leg_x), x2=alt.value(leg_x + 141), y=alt.value(leg_y), y2=alt.value(leg_y + 57))
    sym = alt.Chart(one).mark_point(shape="circle", filled=False, size=62, stroke="black",
                                    strokeWidth=1.1, opacity=1).encode(
        x=alt.value(leg_x + 28), y=alt.value(leg_y + 19))
    seg = alt.Chart(one).mark_rule(color="black", strokeWidth=1.5).encode(
        x=alt.value(leg_x + 8), x2=alt.value(leg_x + 48), y=alt.value(leg_y + 39))
    t1 = alt.Chart(one).mark_text(align="left", baseline="middle", font=SANS, fontSize=16,
                                  color="black").encode(
        x=alt.value(leg_x + 61), y=alt.value(leg_y + 19), text=alt.value("Emp. Alg."))
    t2 = alt.Chart(one).mark_text(align="left", baseline="middle", font=SANS, fontSize=16,
                                  color="black").encode(
        x=alt.value(leg_x + 61), y=alt.value(leg_y + 39), text=alt.value("1:1"))
    lab = alt.Chart(one).mark_text(align="right", baseline="middle", font=SANS, fontSize=21,
                                   fontWeight="bold", color="black").encode(
        x=alt.value(w - tag_right), y=alt.value(h - 32), text=alt.value(tag))
    return alt.layer(pts, line, box, sym, seg, t1, t2, lab).properties(width=w, height=h)


pa = panel(a_low + a_mid1 + a_mid2 + a_wide + a_high, a_x_domain, a_y_domain, 452, 316,
           "Known 𝒂(440)  [m⁻¹]", "Estimated 𝒂(440)  [m⁻¹]", "(a)", 1.5, 16, 12, 22)
pb = panel(b_bin1 + b_bin2 + b_bin3 + b_bin4 + b_bin5 + b_bin6 + b_bin7 + b_bin8 + b_bin9 + b_bin10
           + b_core1 + b_core2 + b_core3 + b_core4 + b_core5 + b_core6 + b_core7 + b_core8,
           b_x_domain, b_y_domain, 445, 317,
           "Measured 𝒂(440)  [m⁻¹]", None, "(b)", 2.4, 15, 10, 16)

chart = alt.hconcat(pa, pb, spacing=36).properties(
    padding={"left": 2, "top": 1, "right": 0, "bottom": 0},
    background="white",
).configure_view(stroke="black", strokeWidth=1).configure_axis(
    grid=False, domainColor="black", domainWidth=1, tickColor="black", tickSize=7,
    tickWidth=1, labelFont=SANS, labelFontWeight="bold", labelFontSize=16, labelColor="black",
    labelPadding=2, titleFont=SERIF, titleFontWeight="bold", titleFontSize=20, titleColor="black",
)

chart.save("out.html", embed_options={"renderer": "svg", "actions": False})
